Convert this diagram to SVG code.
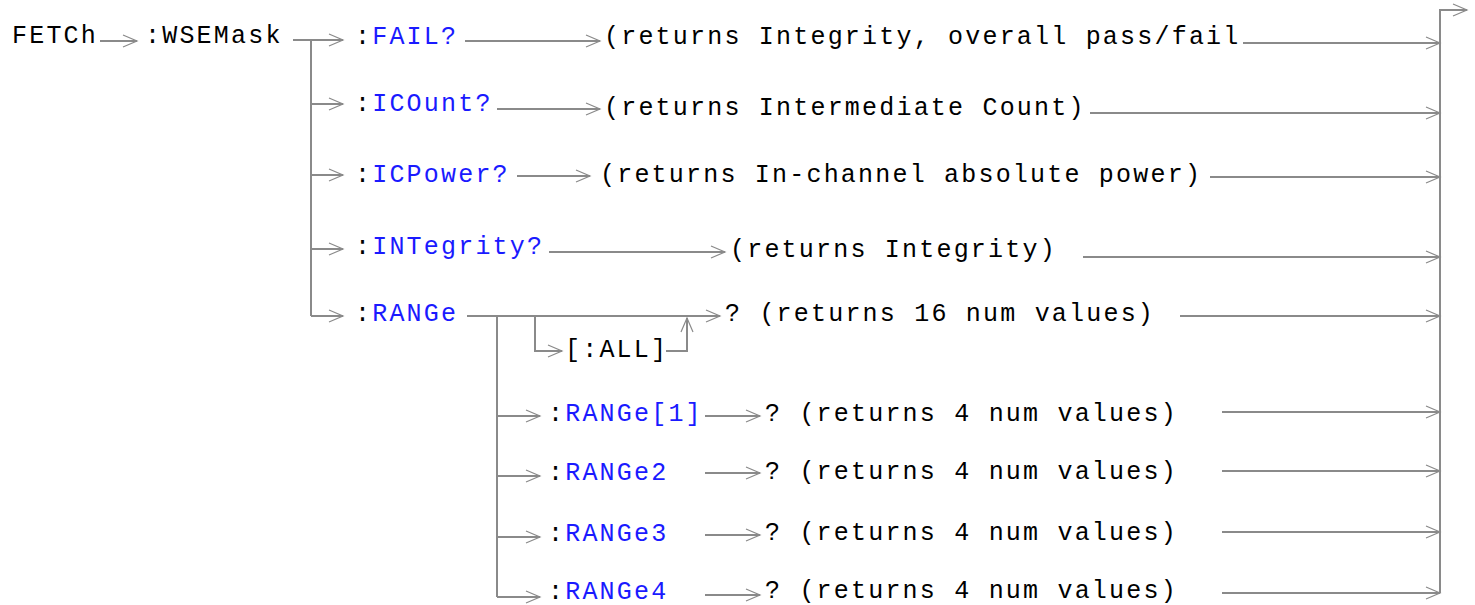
<svg xmlns="http://www.w3.org/2000/svg" width="1475" height="605" viewBox="0 0 1475 605">
<style>
text{font-family:"Liberation Mono","Courier New",monospace;font-size:25px;letter-spacing:2.2px;fill:#000}
.b{fill:#1a1aff}
.c{fill:none;stroke:#8a8a8a;stroke-width:2}
.a{marker-end:url(#ah)}
</style>
<defs>
<marker id="ah" markerUnits="userSpaceOnUse" markerWidth="18" markerHeight="16" refX="15" refY="7" orient="auto">
<path d="M1,1 L15,7 L1,13" fill="none" stroke="#8a8a8a" stroke-width="1.2"/>
</marker>
</defs>
<rect width="1475" height="605" fill="#fff"/>
<g id="connectors">
<path class="c a" d="M100,41 H137"/>
<path class="c a" d="M293,40 H343"/>
<path class="c" d="M311,40 V316"/>
<path class="c a" d="M311,104 H343"/>
<path class="c a" d="M311,175 H343"/>
<path class="c a" d="M311,249 H343"/>
<path class="c a" d="M311,316 H343"/>
<path class="c a" d="M465,41 H600"/>
<path class="c a" d="M1243,43 H1440"/>
<path class="c a" d="M497,109 H600"/>
<path class="c a" d="M1090,113 H1440"/>
<path class="c a" d="M517,176 H590"/>
<path class="c a" d="M1210,177 H1440"/>
<path class="c a" d="M549,252 H725"/>
<path class="c a" d="M1083,257 H1440"/>
<path class="c a" d="M467,316 H720"/>
<path class="c a" d="M1180,316 H1440"/>
<path class="c a" d="M535,316 V351 H562"/>
<path class="c a" d="M666,351 H687 V318"/>
<path class="c" d="M497,316 V597"/>
<path class="c a" d="M497,416 H540"/>
<path class="c a" d="M497,476 H540"/>
<path class="c a" d="M497,537 H540"/>
<path class="c a" d="M497,597 H540"/>
<path class="c a" d="M705,416 H760"/>
<path class="c a" d="M705,473 H760"/>
<path class="c a" d="M705,535 H760"/>
<path class="c a" d="M705,595 H760"/>
<path class="c a" d="M1222,412 H1440"/>
<path class="c a" d="M1222,471 H1440"/>
<path class="c a" d="M1222,532 H1440"/>
<path class="c a" d="M1222,593 H1440"/>
<path class="c a" d="M1440,593 V10 H1467"/>
</g>
<g id="fetch"><text x="12" y="43">FETCh</text></g>
<g id="wsemask"><text x="145" y="43">:WSEMask</text></g>
<g id="fail"><text x="355" y="44">:<tspan class="b">FAIL?</tspan></text><text x="604" y="44">(returns Integrity, overall pass/fail</text></g>
<g id="icount"><text x="355" y="111">:<tspan class="b">ICOunt?</tspan></text><text x="604" y="115">(returns Intermediate Count)</text></g>
<g id="icpower"><text x="355" y="182">:<tspan class="b">ICPower?</tspan></text><text x="600" y="182">(returns In-channel absolute power)</text></g>
<g id="integrity"><text x="355" y="254">:<tspan class="b">INTegrity?</tspan></text><text x="730" y="257">(returns Integrity)</text></g>
<g id="range"><text x="355" y="321">:<tspan class="b">RANGe</tspan></text><text x="725" y="321">? (returns 16 num values)</text></g>
<g id="all"><text x="565" y="357">[:ALL]</text></g>
<g id="range1"><text x="548" y="421">:<tspan class="b">RANGe[1]</tspan></text><text x="765" y="421">? (returns 4 num values)</text></g>
<g id="range2"><text x="548" y="480">:<tspan class="b">RANGe2</tspan></text><text x="765" y="479">? (returns 4 num values)</text></g>
<g id="range3"><text x="548" y="541">:<tspan class="b">RANGe3</tspan></text><text x="765" y="540">? (returns 4 num values)</text></g>
<g id="range4"><text x="548" y="599">:<tspan class="b">RANGe4</tspan></text><text x="765" y="598">? (returns 4 num values)</text></g>
</svg>
